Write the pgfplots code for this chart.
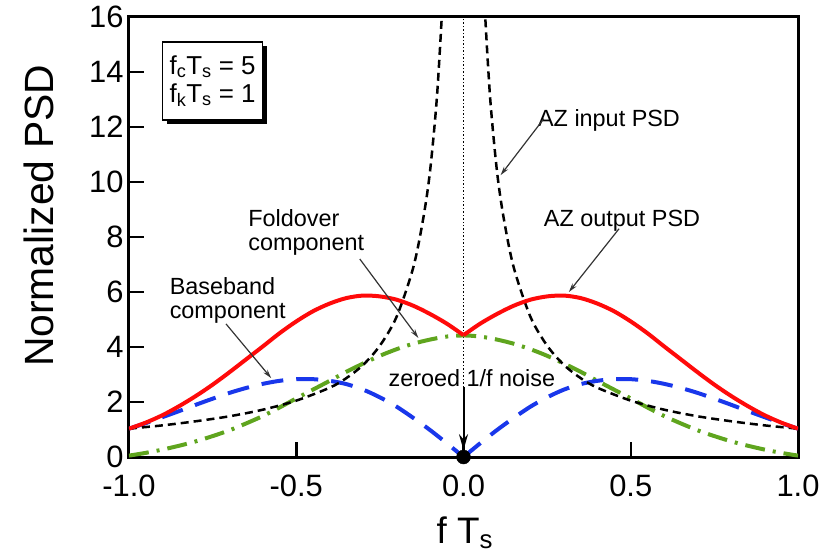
\documentclass[border=0pt]{standalone}
\usepackage{pgfplots}
\pgfplotsset{compat=1.18}
\usepackage{fontspec}
\setmainfont{Liberation Sans}
\usetikzlibrary{arrows.meta,shadows}
\definecolor{myred}{RGB}{255,10,10}
\definecolor{myblue}{RGB}{25,55,235}
\definecolor{mygreen}{RGB}{95,165,30}
\begin{document}
\begin{tikzpicture}
\begin{axis}[
  scale only axis, width=669bp, height=440bp,
  xmin=-1, xmax=1, ymin=0, ymax=16,
  xtick={-1,-0.5,0,0.5,1},
  xticklabels={-1.0,-0.5,0.0,0.5,1.0},
  ytick={0,2,4,6,8,10,12,14,16},
  yticklabels={0,2,4,6,8,10,12,14,16},
  tick align=inside, xtick pos=bottom, ytick pos=left,
  major tick length=15bp,
  axis line style={line width=3bp},
  every tick/.style={line width=2.5bp, black},
  tick label style={font=\fontsize{31}{36}\selectfont},
  xticklabel style={yshift=-14bp},
  yticklabel style={xshift=-2bp},
  xlabel={f T\textsubscript{s}},
  ylabel={Normalized PSD},
  xlabel style={font=\fontsize{37}{44}\selectfont, at={(axis description cs:0.502,-0.172)}, anchor=center},
  ylabel style={font=\fontsize{41}{46}\selectfont, at={(axis description cs:-0.1345,0.548)}, anchor=center},
  clip=true,
]
% dotted vertical line
\addplot[black, dotted, line width=1.5bp] coordinates {(0,0) (0,16)};
% foldover component (green dash-dot)
\addplot[mygreen, line width=4bp, smooth, dash pattern=on 20bp off 8bp on 3bp off 8bp] coordinates {
(-1.0,0.05) (-0.95,0.15) (-0.9,0.27) (-0.85,0.41) (-0.8,0.57) (-0.75,0.76) (-0.7,0.97) (-0.65,1.22) (-0.6,1.49) (-0.55,1.8) (-0.5,2.13) (-0.45,2.45) (-0.4,2.77) (-0.35,3.1) (-0.3,3.4) (-0.25,3.68) (-0.2,3.92) (-0.15,4.12) (-0.1,4.27) (-0.05,4.38) (0,4.42)
(0.05,4.38) (0.1,4.27) (0.15,4.12) (0.2,3.92) (0.25,3.68) (0.3,3.4) (0.35,3.1) (0.4,2.77) (0.45,2.45) (0.5,2.13) (0.55,1.8) (0.6,1.49) (0.65,1.22) (0.7,0.97) (0.75,0.76) (0.8,0.57) (0.85,0.41) (0.9,0.27) (0.95,0.15) (1.0,0.05)};
% baseband component (blue dashed), two halves
\addplot[myblue, line width=4bp, smooth, dash pattern=on 22bp off 13bp] coordinates {
(-1.0,1.03) (-0.95,1.23) (-0.9,1.45) (-0.85,1.67) (-0.8,1.9) (-0.75,2.12) (-0.7,2.33) (-0.65,2.51) (-0.6,2.66) (-0.55,2.77) (-0.5,2.83) (-0.45,2.83) (-0.4,2.77) (-0.35,2.65) (-0.3,2.45) (-0.25,2.17) (-0.2,1.83) (-0.15,1.42) (-0.1,0.98) (-0.05,0.5) (0,0)};
\addplot[myblue, line width=4bp, smooth, dash pattern=on 22bp off 13bp] coordinates {
(0,0) (0.05,0.5) (0.1,0.98) (0.15,1.42) (0.2,1.83) (0.25,2.17) (0.3,2.45) (0.35,2.65) (0.4,2.77) (0.45,2.83) (0.5,2.83) (0.55,2.77) (0.6,2.66) (0.65,2.51) (0.7,2.33) (0.75,2.12) (0.8,1.9) (0.85,1.67) (0.9,1.45) (0.95,1.23) (1.0,1.03)};
% AZ input PSD (black dashed)
\addplot[black, line width=2.5bp, smooth, dash pattern=on 8bp off 5bp] coordinates {
(-1.0,1.03) (-0.9,1.15) (-0.8,1.3) (-0.7,1.48) (-0.6,1.72) (-0.5,2.05) (-0.4,2.52) (-0.35,2.87) (-0.3,3.35) (-0.25,4.05) (-0.2,5.1) (-0.15,6.9) (-0.12,8.7) (-0.1,10.4) (-0.08,13.0) (-0.065,16) (-0.058,17.8)};
\addplot[black, line width=2.5bp, smooth, dash pattern=on 8bp off 5bp] coordinates {
(0.058,17.8) (0.065,16) (0.08,13.0) (0.1,10.4) (0.12,8.7) (0.15,6.9) (0.2,5.1) (0.25,4.05) (0.3,3.35) (0.35,2.87) (0.4,2.52) (0.5,2.05) (0.6,1.72) (0.7,1.48) (0.8,1.3) (0.9,1.15) (1.0,1.03)};
% AZ output PSD (red solid), two halves
\addplot[myred, line width=4bp, smooth] coordinates {
(-1.0,1.03) (-0.95,1.25) (-0.9,1.52) (-0.85,1.85) (-0.8,2.22) (-0.75,2.63) (-0.7,3.08) (-0.65,3.55) (-0.6,4.02) (-0.55,4.5) (-0.5,4.93) (-0.45,5.3) (-0.4,5.58) (-0.35,5.78) (-0.3,5.87) (-0.25,5.84) (-0.2,5.72) (-0.15,5.5) (-0.1,5.2) (-0.05,4.85) (0,4.43)};
\addplot[myred, line width=4bp, smooth] coordinates {
(0,4.43) (0.05,4.85) (0.1,5.2) (0.15,5.5) (0.2,5.72) (0.25,5.84) (0.3,5.87) (0.35,5.78) (0.4,5.58) (0.45,5.3) (0.5,4.93) (0.55,4.5) (0.6,4.02) (0.65,3.55) (0.7,3.08) (0.75,2.63) (0.8,2.22) (0.85,1.85) (0.9,1.52) (0.95,1.25) (1.0,1.03)};
% zeroed 1/f noise arrow and dot
\addplot[black, line width=2bp, -{Stealth[length=16bp,width=9bp]}] coordinates {(0,2.55) (0,0.25)};
\addplot[black, only marks, mark=*, mark size=7bp, clip=false] coordinates {(0,0)};
% annotations
\node[font=\fontsize{23.5}{24}\selectfont] at (axis cs:0.025,2.87) {zeroed 1/f noise};
\node[font=\fontsize{23.5}{24}\selectfont] at (axis cs:0.435,12.25) {AZ input PSD};
\draw[black!80, line width=1.2bp, -{Stealth[length=9bp,width=5bp]}] (axis cs:0.24,12.3) -- (axis cs:0.111,10.25);
\node[font=\fontsize{23.5}{24}\selectfont] at (axis cs:0.474,8.6) {AZ output PSD};
\draw[black!80, line width=1.2bp, -{Stealth[length=9bp,width=5bp]}] (axis cs:0.465,8.3) -- (axis cs:0.315,6.0);
\node[font=\fontsize{23.5}{24}\selectfont, align=left] at (axis cs:-0.47,8.15) {Foldover\\component};
\draw[black!80, line width=1.2bp, -{Stealth[length=9bp,width=5bp]}] (axis cs:-0.31,7.2) -- (axis cs:-0.135,4.33);
\node[font=\fontsize{23.5}{24}\selectfont, align=left] at (axis cs:-0.705,5.7) {Baseband\\component};
\draw[black!80, line width=1.2bp, -{Stealth[length=9bp,width=5bp]}] (axis cs:-0.71,4.84) -- (axis cs:-0.575,2.87);
\node[font=\fontsize{26}{28}\selectfont, align=left, draw=black, line width=1.5bp, fill=white,
      minimum width=100bp, minimum height=78bp, inner sep=4bp,
      drop shadow={opacity=1, fill=black, shadow xshift=4bp, shadow yshift=-4bp}]
  at (axis cs:-0.75,13.67) {f\textsubscript{c}T\textsubscript{s} = 5\\f\textsubscript{k}T\textsubscript{s} = 1};
\end{axis}
\pgfresetboundingbox
\path ([shift={(-129bp,-99bp)}]current axis.south west) rectangle ([shift={(36bp,17bp)}]current axis.north east);
\end{tikzpicture}
\end{document}
